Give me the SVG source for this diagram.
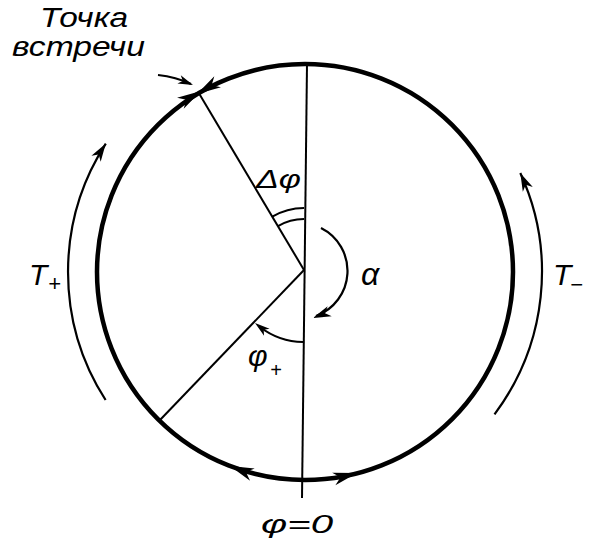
<svg xmlns="http://www.w3.org/2000/svg" width="594" height="545" viewBox="0 0 594 545">
<style>
  .t { font-family: "Liberation Sans", "DejaVu Sans", sans-serif; font-style: italic; fill: #000; }
  .thick { fill: none; stroke: #000; stroke-width: 4.5; }
  .thin { fill: none; stroke: #000; stroke-width: 2; }
  .mid { fill: none; stroke: #000; stroke-width: 2.2; }
  .ah { fill: #000; }
</style>
<defs>
  <path id="big" d="M0,0 L-24,-6.5 L-17,0 L-24,6.5 Z"/>
  <path id="med" d="M0,0 L-18,-5.5 L-13,0 L-18,5.5 Z"/>
  <path id="small" d="M0,0 L-15,-4.5 L-11,0 L-15,4.5 Z"/>
</defs>
<rect width="594" height="545" fill="#fff"/>

<g id="circle">
  <circle class="thick" cx="305" cy="272" r="208"/>
</g>

<g id="connectors">
  <line class="thin" x1="307" y1="64" x2="302" y2="498"/>
  <line class="thin" x1="304" y1="270" x2="198.8" y2="93.1"/>
  <line class="thin" x1="304" y1="270" x2="160" y2="420"/>
  <path class="thin" d="M304,208 A62 62 0 0 0 272.3,216.7"/>
  <path class="thin" d="M304,219 A51 51 0 0 0 278,226.1"/>
  <path class="mid" d="M321,228 A48 48 0 0 1 316,316"/>
  <use href="#med" class="ah" transform="translate(313,318) rotate(158)"/>
  <path class="mid" d="M303,342 A72 72 0 0 1 260,327"/>
  <use href="#small" class="ah" transform="translate(255,323) rotate(218)"/>
  <path class="mid" d="M105.6,400 A237 237 0 0 1 105.8,143.6"/>
  <use href="#med" class="ah" transform="translate(105.8,143.6) rotate(-57.2)"/>
  <path class="mid" d="M494.5,414.3 A237 237 0 0 0 520.3,173"/>
  <use href="#med" class="ah" transform="translate(520.3,173) rotate(-114.7)"/>
  <path class="mid" d="M158,75 Q176,77 191,84"/>
  <use href="#small" class="ah" transform="translate(193,85) rotate(22)"/>
  <use href="#big" class="ah" transform="translate(197,94) rotate(149.3)"/>
  <use href="#big" class="ah" transform="translate(201,91) rotate(-30.7)"/>
  <use href="#big" class="ah" transform="translate(230,466) rotate(201.1)"/>
  <use href="#big" class="ah" transform="translate(357,473) rotate(-14.5)"/>
</g>

<g id="labels">
  <text class="t" x="40" y="27" font-size="27" textLength="88" lengthAdjust="spacingAndGlyphs">Точка</text>
  <text class="t" x="12" y="56" font-size="27" textLength="133" lengthAdjust="spacingAndGlyphs">встречи</text>
  <text class="t" x="256" y="188" font-size="25" textLength="45" lengthAdjust="spacingAndGlyphs">Δφ</text>
  <text class="t" x="361" y="285" font-size="32">α</text>
  <text class="t" x="248" y="366" font-size="30">φ</text>
  <text class="t" x="270" y="377" font-size="20">+</text>
  <text class="t" x="29" y="285" font-size="30">T</text>
  <text class="t" x="48" y="291" font-size="22">+</text>
  <text class="t" x="553" y="285" font-size="30">T</text>
  <text class="t" x="570" y="292" font-size="22">−</text>
  <text class="t" x="261" y="533" font-size="26" textLength="72" lengthAdjust="spacingAndGlyphs">φ=0</text>
</g>
</svg>
